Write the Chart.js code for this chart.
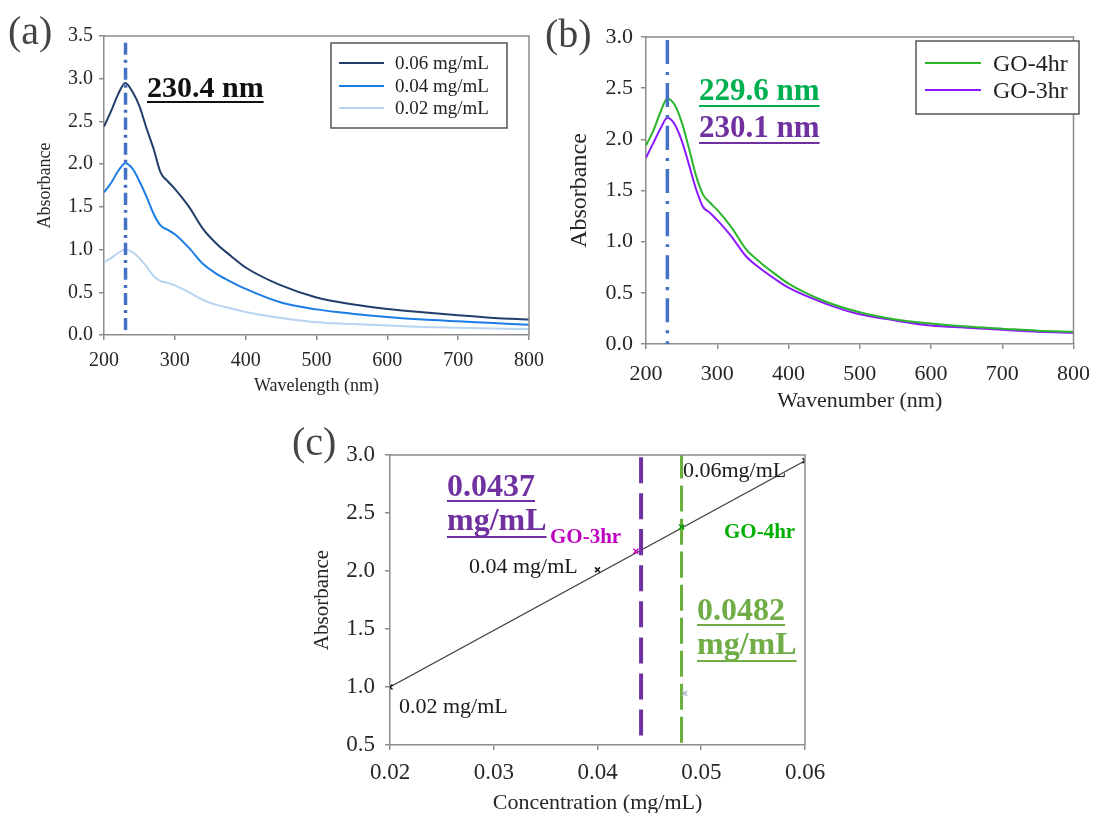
<!DOCTYPE html>
<html>
<head>
<meta charset="utf-8">
<script src="https://cdn.jsdelivr.net/npm/chart.js@4"></script>
<style>
  html, body { margin: 0; padding: 0; background: #fff; overflow: hidden; }
  body { width: 1102px; height: 813px; position: relative; }
  canvas { position: absolute; }
</style>
</head>
<body>
<canvas id="chartA" width="560" height="400" style="left:0;top:0"></canvas>
<canvas id="chartB" width="562" height="420" style="left:540px;top:0"></canvas>
<canvas id="chartC" width="560" height="400" style="left:280px;top:420px"></canvas>
<script>
// ---- data ----
const wavelengths = [200, 210, 220, 230, 240, 250, 260, 270, 280, 290, 300, 320, 340, 360, 380, 400, 450, 500, 550, 600, 650, 700, 750, 800];
const abs006 = [2.44, 2.62, 2.82, 2.95, 2.85, 2.68, 2.42, 2.18, 1.90, 1.80, 1.71, 1.50, 1.24, 1.06, 0.92, 0.79, 0.58, 0.44, 0.36, 0.305, 0.265, 0.23, 0.20, 0.18];
const abs004 = [1.67, 1.78, 1.92, 2.01, 1.95, 1.80, 1.62, 1.42, 1.28, 1.23, 1.18, 1.02, 0.83, 0.71, 0.62, 0.54, 0.38, 0.30, 0.25, 0.21, 0.18, 0.16, 0.14, 0.12];
const abs002 = [0.85, 0.90, 0.96, 1.00, 0.97, 0.90, 0.80, 0.69, 0.63, 0.61, 0.58, 0.50, 0.41, 0.35, 0.31, 0.27, 0.20, 0.15, 0.13, 0.11, 0.095, 0.085, 0.075, 0.07];
const concNames = ["0.06 mg/mL", "0.04 mg/mL", "0.02 mg/mL"];

const go4hr = [1.94, 2.08, 2.26, 2.40, 2.34, 2.17, 1.92, 1.65, 1.46, 1.38, 1.31, 1.14, 0.93, 0.80, 0.69, 0.59, 0.42, 0.31, 0.24, 0.20, 0.17, 0.15, 0.13, 0.12];
const go3hr = [1.82, 1.96, 2.10, 2.21, 2.15, 1.99, 1.76, 1.52, 1.34, 1.28, 1.21, 1.05, 0.86, 0.74, 0.64, 0.55, 0.40, 0.29, 0.23, 0.18, 0.16, 0.14, 0.12, 0.11];
const goNames = ["GO-4hr", "GO-3hr"];

const peakA = 230.4;
const peakB = 230;

const stdConc = [0.02, 0.04, 0.06];
const stdAbs = [1.00, 2.01, 2.95];
const fitConc = [0.02, 0.06];
const fitAbs = [1.00, 2.95];
const sampleConc = [0.0437, 0.0481];
const sampleAbs = [2.17, 2.38];
const lineGO3 = 0.0442;
const lineGO4 = 0.0481;
const strayConc = [0.0484];
const strayAbs = [0.945];

// ---- helpers ----
const SERIF = "'Liberation Serif', 'DejaVu Serif', serif";
const AXIS = "#8c8c8c";
const pts = (xs, ys) => xs.map((x, i) => ({ x, y: ys[i] }));

function text(ctx, str, x, y, size, color, bold, under) {
  ctx.save();
  ctx.font = (bold ? "bold " : "") + size + "px " + SERIF;
  ctx.fillStyle = color;
  ctx.textAlign = "left";
  ctx.textBaseline = "alphabetic";
  ctx.fillText(str, x, y);
  if (under) ctx.fillRect(x, y + under, ctx.measureText(str).width, 2);
  ctx.restore();
}

function frame(chart) {
  const { ctx, chartArea: a } = chart;
  ctx.save();
  ctx.strokeStyle = AXIS;
  ctx.lineWidth = 1.5;
  ctx.beginPath();
  ctx.moveTo(a.left, a.top);
  ctx.lineTo(a.right, a.top);
  ctx.lineTo(a.right, a.bottom);
  ctx.stroke();
  ctx.restore();
}

function legendBox(ctx, x0, y0, w, h, items, lineX0, lineX1, textX, rows, size) {
  ctx.save();
  ctx.fillStyle = "#fff";
  ctx.fillRect(x0, y0, w, h);
  ctx.strokeStyle = "#555";
  ctx.lineWidth = 1.5;
  ctx.strokeRect(x0, y0, w, h);
  items.forEach((it, i) => {
    ctx.strokeStyle = it.color;
    ctx.lineWidth = 2;
    ctx.beginPath();
    ctx.moveTo(lineX0, rows[i]);
    ctx.lineTo(lineX1, rows[i]);
    ctx.stroke();
    text(ctx, it.label, textX, rows[i] + size * 0.33, size, "#222", false, 0);
  });
  ctx.restore();
}

function axes(opts) {
  const grid = { display: true, drawOnChartArea: false, drawTicks: true, tickLength: 5, color: AXIS, lineWidth: 1.5 };
  const border = { display: true, color: AXIS, width: 1.5 };
  return {
    x: {
      type: "linear", position: "bottom", min: opts.xmin, max: opts.xmax,
      grid, border,
      afterFit: (s) => { s.height = opts.xh; },
      ticks: {
        stepSize: opts.xstep, maxRotation: 0, autoSkip: false, padding: opts.xpad,
        color: "#262626", font: { family: SERIF, size: opts.tick },
        callback: opts.xfmt,
      },
      title: {
        display: true, text: opts.xtitle, color: "#262626",
        font: { family: SERIF, size: opts.xtsize },
        padding: { top: 0, bottom: opts.xtpad },
      },
    },
    y: {
      type: "linear", position: "left", min: opts.ymin, max: opts.ymax,
      grid, border,
      afterFit: (s) => { s.width = opts.yw; },
      ticks: {
        stepSize: 0.5, padding: opts.ypad,
        color: "#262626", font: { family: SERIF, size: opts.tick },
        callback: (v) => v.toFixed(1),
      },
      title: {
        display: true, text: "Absorbance", color: "#262626",
        font: { family: SERIF, size: opts.ytsize },
        padding: { top: opts.ytpad, bottom: 0 },
      },
    },
  };
}

Chart.defaults.animation = false;
Chart.defaults.plugins.tooltip.enabled = false;

const lineDs = (label, xs, ys, color, width, dash) => ({
  label, data: pts(xs, ys), showLine: true, borderColor: color, backgroundColor: color,
  borderWidth: width, borderDash: dash || [], pointRadius: 0, cubicInterpolationMode: "monotone",
});

// ---- (a) ----
new Chart(document.getElementById("chartA"), {
  type: "scatter",
  data: {
    datasets: [
      lineDs("peak", [peakA, peakA], [3.42, 0], "#4472c4", 3.5, [12, 5, 3, 5]),
      lineDs(concNames[0], wavelengths, abs006, "#223d6b", 2),
      lineDs(concNames[1], wavelengths, abs004, "#1c7ce6", 2),
      lineDs(concNames[2], wavelengths, abs002, "#b8d4f0", 2),
    ],
  },
  options: {
    responsive: false,
    layout: { padding: { top: 36, right: 31, left: 0, bottom: 0 } },
    plugins: { legend: { display: false } },
    scales: axes({
      xmin: 200, xmax: 800, xstep: 100, xh: 65, xpad: 9, tick: 20,
      xfmt: (v) => v, xtitle: "Wavelength (nm)", xtsize: 18, xtpad: 3,
      ymin: 0, ymax: 3.5, yw: 104, ypad: 6, ytsize: 18, ytpad: 34,
    }),
  },
  plugins: [{
    id: "decorA",
    afterDatasetsDraw(chart) {
      const ctx = chart.ctx;
      frame(chart);
      const ds = chart.data.datasets;
      legendBox(ctx, 331, 43, 176, 85, [1, 2, 3].map((i) => ({ label: ds[i].label, color: ds[i].borderColor })),
        339, 384, 395, [63, 86, 108], 19);
      text(ctx, "230.4 nm", 147, 97, 30, "#111", true, 4);
      text(ctx, "(a)", 8, 44, 40, "#444", false, 0);
    },
  }],
});

// ---- (b) ----
new Chart(document.getElementById("chartB"), {
  type: "scatter",
  data: {
    datasets: [
      lineDs("peak", [peakB, peakB], [2.97, 0], "#4472c4", 3.5, [24, 8, 3, 8]),
      lineDs(goNames[0], wavelengths, go4hr, "#2ab52a", 2),
      lineDs(goNames[1], wavelengths, go3hr, "#8c1aff", 2),
    ],
  },
  options: {
    responsive: false,
    layout: { padding: { top: 37, right: 17, left: 0, bottom: 0 } },
    plugins: { legend: { display: false } },
    scales: axes({
      xmin: 200, xmax: 800, xstep: 100, xh: 76, xpad: 12, tick: 22,
      xfmt: (v) => v, xtitle: "Wavenumber (nm)", xtsize: 22, xtpad: 6,
      ymin: 0, ymax: 3.0, yw: 106, ypad: 8, ytsize: 24, ytpad: 25,
    }),
  },
  plugins: [{
    id: "decorB",
    afterDatasetsDraw(chart) {
      const ctx = chart.ctx;
      frame(chart);
      const ds = chart.data.datasets;
      const ox = 540;
      legendBox(ctx, 916 - ox, 41, 163, 73, [1, 2].map((i) => ({ label: ds[i].label, color: ds[i].borderColor })),
        925 - ox, 981 - ox, 993 - ox, [63, 90], 24);
      text(ctx, "229.6 nm", 699 - ox, 100, 31, "#00b050", true, 5);
      text(ctx, "230.1 nm", 699 - ox, 137, 31, "#7030a0", true, 5);
      text(ctx, "(b)", 545 - ox, 47, 40, "#444", false, 0);
    },
  }],
});

// ---- (c) ----
const cross = (label, xs, ys, color) => ({
  label, data: pts(xs, ys), showLine: false, pointStyle: "crossRot", pointRadius: 3.5,
  borderColor: color, backgroundColor: color, pointBorderColor: color, pointBorderWidth: 1.5,
  order: -1,
});

new Chart(document.getElementById("chartC"), {
  type: "scatter",
  data: {
    datasets: [
      lineDs("GO-3hr line", [lineGO3, lineGO3], [2.98, 0.53], "#7030a0", 4, [26, 10]),
      lineDs("GO-4hr line", [lineGO4, lineGO4], [3.02, 0.5], "#6aaf3b", 3, [26, 7]),
      lineDs("fit", fitConc, fitAbs, "#444", 1.2),
      cross("standards", stdConc, stdAbs, "#111"),
      cross("samples", sampleConc, sampleAbs, ["#c000c0", "#00a000"]),
      cross("stray", strayConc, strayAbs, "#b4bccc"),
    ],
  },
  options: {
    responsive: false,
    layout: { padding: { top: 35, right: 35, left: 0, bottom: 0 } },
    plugins: { legend: { display: false } },
    scales: axes({
      xmin: 0.02, xmax: 0.06, xstep: 0.01, xh: 75, xpad: 9, tick: 23,
      xfmt: (v) => v.toFixed(2), xtitle: "Concentration (mg/mL)", xtsize: 22, xtpad: 4,
      ymin: 0.5, ymax: 3.0, yw: 110, ypad: 10, ytsize: 21, ytpad: 30,
    }),
  },
  plugins: [{
    id: "decorC",
    afterDatasetsDraw(chart) {
      const ctx = chart.ctx;
      frame(chart);
      const ox = 280, oy = 420;
      text(ctx, "(c)", 292 - ox, 455 - oy, 40, "#444", false, 0);
      text(ctx, "0.0437", 447 - ox, 496 - oy, 32, "#7030a0", true, 4);
      text(ctx, "mg/mL", 447 - ox, 530 - oy, 32, "#7030a0", true, 6);
      text(ctx, "GO-3hr", 550 - ox, 543 - oy, 21, "#c000c0", true, 0);
      text(ctx, "GO-4hr", 724 - ox, 538 - oy, 21, "#00b000", true, 0);
      text(ctx, "0.0482", 697 - ox, 620 - oy, 32, "#70ad47", true, 4);
      text(ctx, "mg/mL", 697 - ox, 654 - oy, 32, "#70ad47", true, 6);
      text(ctx, "0.06mg/mL", 683 - ox, 477 - oy, 22, "#1a1a1a", false, 0);
      text(ctx, "0.04 mg/mL", 469 - ox, 573 - oy, 22, "#1a1a1a", false, 0);
      text(ctx, "0.02 mg/mL", 399 - ox, 713 - oy, 22, "#1a1a1a", false, 0);
    },
  }],
});
</script>
</body>
</html>
